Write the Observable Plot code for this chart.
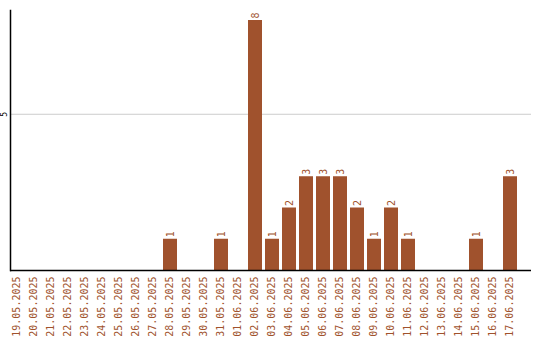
<!DOCTYPE html>
<html>
<head>
<meta charset="utf-8">
<script src="https://cdn.jsdelivr.net/npm/d3@7"></script>
<script src="https://cdn.jsdelivr.net/npm/@observablehq/plot@0.6"></script>
<style>
  html, body { margin: 0; padding: 0; background: #fff; }
  #chart svg { display: block; }
</style>
</head>
<body>
<div id="chart"></div>
<script>
const dates = ["19.05.2025","20.05.2025","21.05.2025","22.05.2025","23.05.2025","24.05.2025","25.05.2025","26.05.2025","27.05.2025","28.05.2025","29.05.2025","30.05.2025","31.05.2025","01.06.2025","02.06.2025","03.06.2025","04.06.2025","05.06.2025","06.06.2025","07.06.2025","08.06.2025","09.06.2025","10.06.2025","11.06.2025","12.06.2025","13.06.2025","14.06.2025","15.06.2025","16.06.2025","17.06.2025"];
const counts = [0,0,0,0,0,0,0,0,0,1,0,0,1,0,8,1,2,3,3,3,2,1,2,1,0,0,0,1,0,3];
const yTicks = [5];

const data = dates.map((d, i) => ({date: d, value: counts[i]}));
const color = "#a0522d";
const mono = "DejaVu Sans Mono";

const chart = Plot.plot({
  width: 540,
  height: 340,
  marginTop: 10,
  marginBottom: 70,
  marginLeft: 10,
  marginRight: 9,
  style: {background: "#fff", fontFamily: mono},
  x: {domain: dates, range: [10, 517], paddingInner: 3/17, paddingOuter: 0, align: 0, axis: null, label: null},
  y: {domain: [0, 8.32], axis: null, label: null},
  marks: [
    Plot.ruleY(yTicks, {stroke: "#cccccc", strokeWidth: 1}),
    Plot.barY(data, {x: "date", y: "value", fill: color}),
    Plot.text(data.filter(d => d.value > 0), {x: "date", y: "value", text: d => String(d.value), rotate: -90, textAnchor: "start", fill: color, fontSize: 10, fontFamily: mono, dy: -2, lineAnchor: "middle"}),
    Plot.axisX({label: null, tickSize: 0, tickPadding: 6, rotate: -90, textAnchor: "end", fill: color, fontSize: 10, fontFamily: mono, lineAnchor: "middle", dx: -1}),
    Plot.text(yTicks, {y: d => d, frameAnchor: "left", dx: -6, text: d => String(d), rotate: -90, textAnchor: "middle", fill: "#000", fontSize: 8, fontFamily: mono}),
    Plot.ruleY([0], {stroke: "#000", strokeWidth: 1.5}),
    Plot.frame({anchor: "left", stroke: "#000", strokeWidth: 1.5})
  ]
});
document.getElementById("chart").appendChild(chart);
</script>
</body>
</html>
